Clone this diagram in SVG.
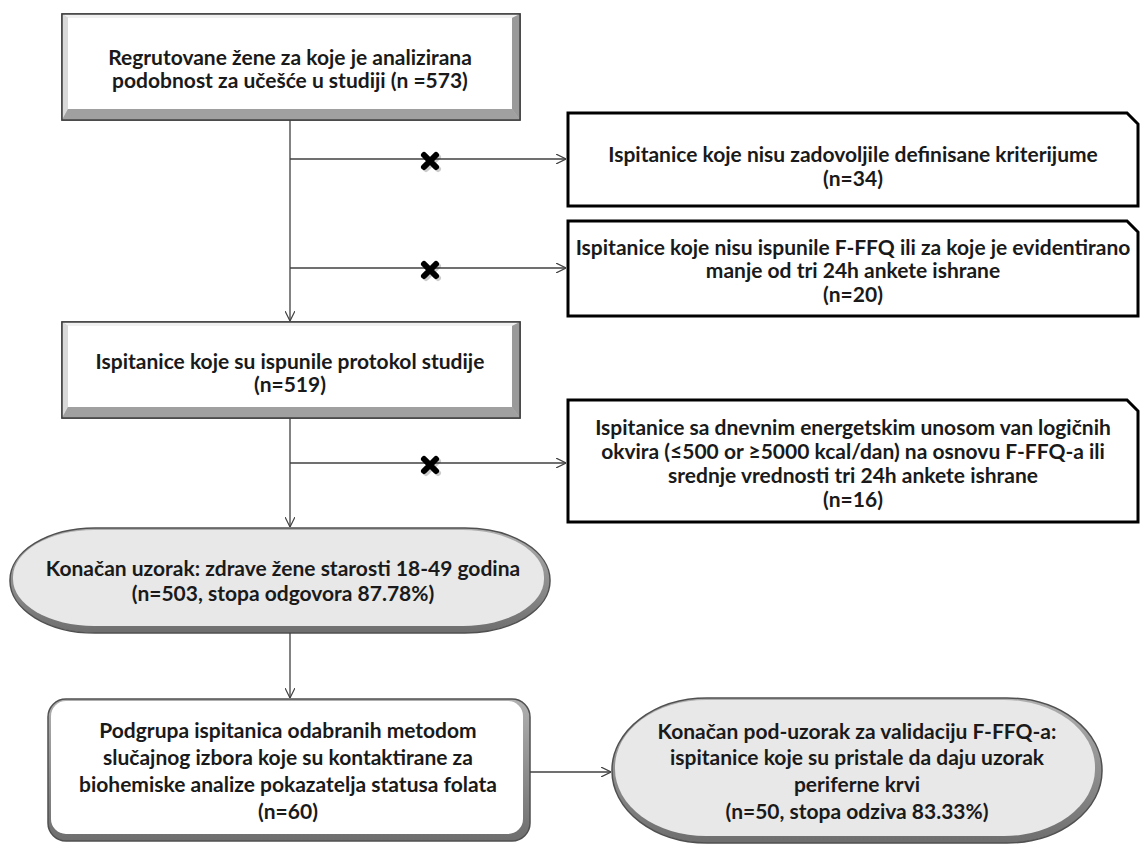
<svg xmlns="http://www.w3.org/2000/svg" width="1142" height="846" viewBox="0 0 1142 846">
<defs>
<style>
text{font-family:Lato,"Liberation Sans",sans-serif;font-weight:bold;font-size:21px;fill:#1a1a1a;text-anchor:middle}
.ln{stroke:#404040;stroke-width:1.3;fill:none}
.snip{fill:#fff;stroke:#000;stroke-width:3}
.xm{stroke:#000;stroke-width:6;stroke-linecap:round}
.xs{stroke:#000;stroke-width:6;stroke-linecap:round;opacity:0.2}
</style>
<marker id="arr" viewBox="0 0 10 10" refX="10" refY="5" markerWidth="10" markerHeight="10" markerUnits="userSpaceOnUse" orient="auto">
<path d="M0,0 L10,5 L0,10" fill="none" stroke="#404040" stroke-width="1.2"/>
</marker>
<linearGradient id="og" x1="0" y1="0" x2="0" y2="1">
<stop offset="0" stop-color="#b0b0b0"/>
<stop offset="1" stop-color="#6e6e6e"/>
</linearGradient>
</defs>

<g id="node-recruited">
<rect x="62" y="14" width="458" height="106" fill="#bfbfbf" stroke="#404040" stroke-width="1.5"/>
<polygon points="62,14 520,14 512,18 68,18" fill="#f0f0f0"/>
<polygon points="62,14 68,18 68,109 62,120" fill="#d9d9d9"/>
<polygon points="62,120 68,109 512,109 520,120" fill="#a0a0a0"/>
<polygon points="520,14 512,18 512,109 520,120" fill="#9a9a9a"/>
<rect x="68" y="18" width="444" height="91" fill="#fff"/>
<rect x="62" y="14" width="458" height="106" fill="none" stroke="#404040" stroke-width="1.5"/>
<text x="290" y="65">Regrutovane žene za koje je analizirana</text>
<text x="290" y="88">podobnost za učešće u studiji (n =573)</text>
</g>

<g id="node-excluded-criteria">
<path class="snip" d="M568,113 H1127 L1138,124 V206 H568 Z"/>
<text x="853" y="162">Ispitanice koje nisu zadovoljile definisane kriterijume</text>
<text x="853" y="186">(n=34)</text>
</g>

<g id="node-excluded-ffq">
<path class="snip" d="M568,221 H1127 L1138,232 V316 H568 Z"/>
<text x="853" y="255">Ispitanice koje nisu ispunile F-FFQ ili za koje je evidentirano</text>
<text x="853" y="278">manje od tri 24h ankete ishrane</text>
<text x="853" y="302">(n=20)</text>
</g>

<g id="node-protocol">
<rect x="62" y="322" width="458" height="96" fill="#bfbfbf" stroke="#404040" stroke-width="1.5"/>
<polygon points="62,322 520,322 512,326 68,326" fill="#f0f0f0"/>
<polygon points="62,322 68,326 68,407 62,418" fill="#d9d9d9"/>
<polygon points="62,418 68,407 512,407 520,418" fill="#a0a0a0"/>
<polygon points="520,322 512,326 512,407 520,418" fill="#9a9a9a"/>
<rect x="68" y="326" width="444" height="81" fill="#fff"/>
<rect x="62" y="322" width="458" height="96" fill="none" stroke="#404040" stroke-width="1.5"/>
<text x="290" y="369">Ispitanice koje su ispunile protokol studije</text>
<text x="290" y="392">(n=519)</text>
</g>

<g id="node-excluded-energy">
<path class="snip" d="M568,400 H1127 L1138,411 V522 H568 Z"/>
<text x="853" y="435">Ispitanice sa dnevnim energetskim unosom van logičnih</text>
<text x="853" y="459">okvira (≤500 or ≥5000 kcal/dan) na osnovu F-FFQ-a ili</text>
<text x="853" y="483">srednje vrednosti tri 24h ankete ishrane</text>
<text x="853" y="507">(n=16)</text>
</g>

<g id="node-final-sample">
<rect x="10" y="528" width="540" height="105" rx="85" ry="52" fill="url(#og)" stroke="#505050" stroke-width="1.5"/>
<rect x="13" y="530" width="531" height="96" rx="81" ry="47" fill="#e8e8e8"/>
<text x="283" y="576">Konačan uzorak: zdrave žene starosti 18-49 godina</text>
<text x="283" y="601">(n=503, stopa odgovora 87.78%)</text>
</g>

<g id="node-subgroup">
<rect x="48" y="699" width="482" height="142" rx="18" ry="18" fill="url(#og)" stroke="#505050" stroke-width="1.5"/>
<rect x="51" y="701" width="472" height="133" rx="15" ry="15" fill="#fff"/>
<text x="288" y="738">Podgrupa ispitanica odabranih metodom</text>
<text x="288" y="765">slučajnog izbora koje su kontaktirane za</text>
<text x="288" y="792">biohemiske analize pokazatelja statusa folata</text>
<text x="288" y="819">(n=60)</text>
</g>

<g id="node-final-subsample">
<rect x="612" y="698" width="490" height="145" rx="95" ry="72" fill="url(#og)" stroke="#505050" stroke-width="1.5"/>
<rect x="615" y="700" width="480" height="136" rx="91" ry="67" fill="#e8e8e8"/>
<text x="857" y="739">Konačan pod-uzorak za validaciju F-FFQ-a:</text>
<text x="857" y="765">ispitanice koje su pristale da daju uzorak</text>
<text x="857" y="792">periferne krvi</text>
<text x="857" y="819">(n=50, stopa odziva 83.33%)</text>
</g>

<g id="connectors">
<line class="ln" x1="290" y1="120" x2="290" y2="321" marker-end="url(#arr)"/>
<line class="ln" x1="290" y1="159" x2="566" y2="159" marker-end="url(#arr)"/>
<line class="ln" x1="290" y1="268" x2="566" y2="268" marker-end="url(#arr)"/>
<line class="ln" x1="290" y1="418" x2="290" y2="527" marker-end="url(#arr)"/>
<line class="ln" x1="290" y1="463" x2="566" y2="463" marker-end="url(#arr)"/>
<line class="ln" x1="290" y1="633" x2="290" y2="698" marker-end="url(#arr)"/>
<line class="ln" x1="530" y1="772" x2="611" y2="772" marker-end="url(#arr)"/>
<g id="x-marks">
<path class="xs" d="M426,157 L438,169 M438,157 L426,169"/>
<path class="xm" d="M424,155 L436,167 M436,155 L424,167"/>
<path class="xs" d="M426,266 L438,278 M438,266 L426,278"/>
<path class="xm" d="M424,264 L436,276 M436,264 L424,276"/>
<path class="xs" d="M426,461 L438,473 M438,461 L426,473"/>
<path class="xm" d="M424,459 L436,471 M436,459 L424,471"/>
</g>
</g>
</svg>
